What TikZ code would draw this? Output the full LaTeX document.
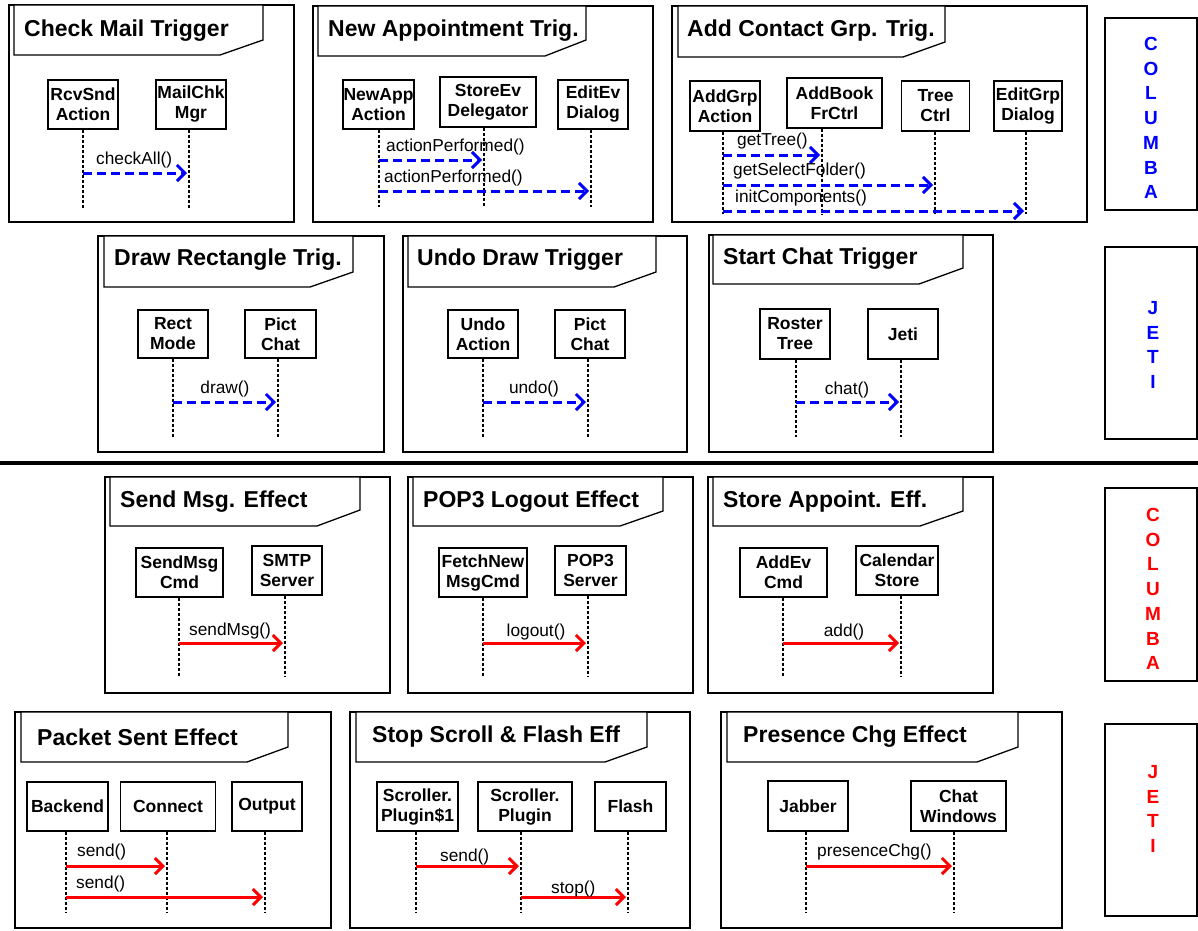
\documentclass[tikz,border=0pt]{standalone}
\usepackage{fontspec}
\setmainfont{Liberation Sans}
\usetikzlibrary{arrows.meta}
\tikzset{
  frame/.style={draw, line width=1.3pt},
  tabs/.style={draw, fill=white, line width=1.3pt, line join=miter},
  ttl/.style={anchor=west, font=\bfseries\fontsize{23}{26}\selectfont, inner sep=0pt},
  objbox/.style={draw, fill=white, line width=1.3pt, font=\bfseries\fontsize{17.5}{20}\selectfont, align=center, inner sep=0pt},
  lifeln/.style={line width=1.4pt, dash pattern=on 3pt off 2pt},
  trig/.style={blue, line width=3pt, dash pattern=on 9pt off 5pt, -{Straight Barb[length=8pt,width=16pt]}, shorten >=2pt},
  eff/.style={red, line width=3pt, -{Straight Barb[length=8pt,width=16pt]}, shorten >=2pt},
  lbl/.style={font=\fontsize{17.3}{20}\selectfont, inner sep=0pt},
  sidebox/.style={draw, line width=1.3pt},
  sidetxt/.style={font=\bfseries\fontsize{19}{24.7}\selectfont, align=center, inner sep=0pt},
}
\newcommand\myPanel[9]{%
  \draw[frame] (#1,#2) rectangle (#3,#4);
  \draw[tabs] (#5,#2) -- (#6,#2) -- (#6,#7) -- (#8,#9) -- (#5,#9) -- cycle;}
\newcommand\myObj[6]{\node[objbox, minimum width=#4pt, minimum height=#5pt] (#1) at (#2,#3) {#6};}
\newcommand\myLife[4]{\coordinate (#1) at (#3,#4); \draw[lifeln] (#2.south -| #1) -- (#1);}
\newcommand\myMsg[5]{\coordinate (#1) at (0,#4); \draw[#5] (#2 |- #1) -- (#3 |- #1);}
\begin{document}
\begin{tikzpicture}[x=1pt,y=-1pt]
\useasboundingbox (0,0) rectangle (1198,930);
\fill[white] (0,0) rectangle (1198,930);

% ---------- Panel 1 ----------
\myPanel{9}{5}{294}{222}{14}{263}{40}{220}{55}
\node[ttl] (t1) at (24,31) {Check Mail Trigger};
\myObj{rcv}{83}{104.5}{70}{49}{RcvSnd\\Action}
\myObj{mailchk}{191}{104.5}{70}{49}{MailChk\\Mgr}
\myLife{l1a}{rcv}{83}{208}
\myLife{l1b}{mailchk}{189}{208}
\myMsg{m1}{l1a}{l1b}{173}{trig}
\node[lbl, anchor=west] (c1) at (96,160) {checkAll()};

% ---------- Panel 2 ----------
\myPanel{313}{6}{653}{222}{318}{586}{40}{545}{56}
\node[ttl] (t2) at (328,31) {New Appointment Trig.};
\myObj{newapp}{378.5}{104.5}{71}{49}{NewApp\\Action}
\myObj{storeev}{488}{102}{96}{50}{StoreEv\\Delegator}
\myObj{editev}{593}{104.5}{70}{49}{EditEv\\Dialog}
\myLife{l2a}{newapp}{379}{207}
\myLife{l2b}{storeev}{484}{207}
\myLife{l2c}{editev}{591}{207}
\myMsg{m2a}{l2a}{l2b}{160}{trig}
\myMsg{m2b}{l2a}{l2c}{191}{trig}
\node[lbl, anchor=west] (c2a) at (386,147) {actionPerformed()};
\node[lbl, anchor=west] (c2b) at (384,178) {actionPerformed()};

% ---------- Panel 3 ----------
\myPanel{672}{6}{1087}{222}{678}{945}{42}{903}{57}
\node[ttl] (t3) at (687,31) {Add Contact Grp. Trig.};
\myObj{addgrp}{725}{106}{70}{50}{AddGrp\\Action}
\myObj{addbook}{834.5}{103}{95}{50}{AddBook\\FrCtrl}
\myObj{treectrl}{935.5}{106}{68}{50}{Tree\\Ctrl}
\myObj{editgrp}{1028}{106}{68}{50}{EditGrp\\Dialog}
\myLife{l3a}{addgrp}{723}{214}
\myLife{l3b}{addbook}{822}{214}
\myLife{l3c}{treectrl}{935}{214}
\myLife{l3d}{editgrp}{1026}{214}
\myMsg{m3a}{l3a}{l3b}{155}{trig}
\myMsg{m3b}{l3a}{l3c}{185}{trig}
\myMsg{m3c}{l3a}{l3d}{211}{trig}
\node[lbl, anchor=west] (c3a) at (737,141) {getTree()};
\node[lbl, anchor=west] (c3b) at (733,171) {getSelectFolder()};
\node[lbl, anchor=west] (c3c) at (735,198) {initComponents()};

% ---------- Panel 4 ----------
\myPanel{98}{236}{384}{452}{104}{353}{272}{310}{287}
\node[ttl] (t4) at (114,260) {Draw Rectangle Trig.};
\myObj{rectmode}{173}{334}{70}{48}{Rect\\Mode}
\myObj{pictA}{280.5}{334}{71}{48}{Pict\\Chat}
\myLife{l4a}{rectmode}{173}{437}
\myLife{l4b}{pictA}{278}{437}
\myMsg{m4}{l4a}{l4b}{402}{trig}
\node[lbl] (c4) at (225,389) {draw()};

% ---------- Panel 5 ----------
\myPanel{403}{236}{687}{452}{408}{656}{272}{614}{287}
\node[ttl] (t5) at (417,260) {Undo Draw Trigger};
\myObj{undoact}{483}{334}{70}{48}{Undo\\Action}
\myObj{pictB}{590}{334}{70}{48}{Pict\\Chat}
\myLife{l5a}{undoact}{483}{437}
\myLife{l5b}{pictB}{588}{437}
\myMsg{m5}{l5a}{l5b}{402}{trig}
\node[lbl] (c5) at (534,389) {undo()};

% ---------- Panel 6 ----------
\myPanel{709}{235}{993}{452}{713}{963}{268}{919}{284}
\node[ttl] (t6) at (723,259) {Start Chat Trigger};
\myObj{roster}{795}{334}{70}{50}{Roster\\Tree}
\myObj{jeti}{903}{334}{70}{50}{Jeti}
\myLife{l6a}{roster}{796}{437}
\myLife{l6b}{jeti}{901}{437}
\myMsg{m6}{l6a}{l6b}{402}{trig}
\node[lbl] (c6) at (847,390) {chat()};

% ---------- side boxes (triggers) ----------
\node[sidebox, minimum width=92pt, minimum height=192pt] (sideA) at (1151,114) {};
\node[sidetxt, text=blue] (sideAt) at (1151,118) {C\\O\\L\\U\\M\\B\\A};
\node[sidebox, minimum width=92pt, minimum height=192pt] (sideB) at (1151,343) {};
\node[sidetxt, text=blue] (sideBt) at (1153,345) {J\\E\\T\\I};

% ---------- separator ----------
\coordinate (sepL) at (0,463);
\coordinate (sepR) at (1198,463);
\draw[line width=4pt] (sepL) -- (sepR);

% ---------- Panel 7 ----------
\myPanel{105}{477}{390}{693}{110}{360}{510}{317}{526}
\node[ttl] (t7) at (120,502) {Send Msg. Effect};
\myObj{sendmsg}{179.5}{572.5}{87}{49}{SendMsg\\Cmd}
\myObj{smtp}{287}{570.5}{70}{49}{SMTP\\Server}
\myLife{l7a}{sendmsg}{179}{677}
\myLife{l7b}{smtp}{285}{677}
\myMsg{m7}{l7a}{l7b}{643}{eff}
\node[lbl, anchor=west] (c7) at (189,631) {sendMsg()};

% ---------- Panel 8 ----------
\myPanel{408}{477}{693}{693}{413}{663}{511}{620}{526}
\node[ttl] (t8) at (423,502) {POP3 Logout Effect};
\myObj{fetch}{483}{572.5}{88}{49}{FetchNew\\MsgCmd}
\myObj{pop3}{590.5}{570.5}{71}{49}{POP3\\Server}
\myLife{l8a}{fetch}{483}{677}
\myLife{l8b}{pop3}{588}{677}
\myMsg{m8}{l8a}{l8b}{643}{eff}
\node[lbl] (c8) at (536,632) {logout()};

% ---------- Panel 9 ----------
\myPanel{708}{477}{993}{693}{713}{963}{511}{920}{526}
\node[ttl] (t9) at (723,502) {Store Appoint. Eff.};
\myObj{addev}{783.5}{572.5}{87}{49}{AddEv\\Cmd}
\myObj{calstore}{897}{570.5}{82}{49}{Calendar\\Store}
\myLife{l9a}{addev}{783}{677}
\myLife{l9b}{calstore}{901}{677}
\myMsg{m9}{l9a}{l9b}{643}{eff}
\node[lbl] (c9) at (844,632) {add()};

% ---------- Panel 10 ----------
\myPanel{15}{712}{331}{928}{21}{288}{747}{247}{762}
\node[ttl] (t10) at (37,737) {Packet Sent Effect};
\myObj{backend}{67.5}{806.5}{81}{49}{Backend}
\myObj{connect}{168}{806.5}{95}{49}{Connect}
\myObj{output}{267}{806.5}{70}{49}{Output}
\myLife{l10a}{backend}{66}{912}
\myLife{l10b}{connect}{167}{912}
\myLife{l10c}{output}{265}{912}
\myMsg{m10a}{l10a}{l10b}{866}{eff}
\myMsg{m10b}{l10a}{l10c}{897}{eff}
\node[lbl, anchor=west] (c10a) at (77,852) {send()};
\node[lbl, anchor=west] (c10b) at (76,884) {send()};

% ---------- Panel 11 ----------
\myPanel{350}{712}{690}{928}{356}{647}{747}{605}{762}
\node[ttl] (t11) at (372,737) {Stop Scroll \& Flash Eff};
\myObj{scrollA}{417.5}{806.5}{81}{49}{Scroller.\\Plugin\$1}
\myObj{scrollB}{525}{806.5}{94}{49}{Scroller.\\Plugin}
\myObj{flash}{630.5}{806.5}{71}{49}{Flash}
\myLife{l11a}{scrollA}{416}{912}
\myLife{l11b}{scrollB}{521}{912}
\myLife{l11c}{flash}{628}{912}
\myMsg{m11a}{l11a}{l11b}{866}{eff}
\myMsg{m11b}{l11b}{l11c}{897}{eff}
\node[lbl, anchor=west] (c11a) at (440,857) {send()};
\node[lbl, anchor=west] (c11b) at (551,889) {stop()};

% ---------- Panel 12 ----------
\myPanel{721}{712}{1062}{928}{727}{1018}{747}{977}{762}
\node[ttl] (t12) at (743,737) {Presence Chg Effect};
\myObj{jabber}{808}{806}{80}{50}{Jabber}
\myObj{chatwin}{958.5}{806}{95}{50}{Chat\\Windows}
\myLife{l12a}{jabber}{806}{912}
\myLife{l12b}{chatwin}{954}{912}
\myMsg{m12}{l12a}{l12b}{866}{eff}
\node[lbl, anchor=west] (c12) at (817,852) {presenceChg()};

% ---------- side boxes (effects) ----------
\node[sidebox, minimum width=92pt, minimum height=193pt] (sideC) at (1151,584.5) {};
\node[sidetxt, text=red] (sideCt) at (1153,589) {C\\O\\L\\U\\M\\B\\A};
\node[sidebox, minimum width=92pt, minimum height=192pt] (sideD) at (1151,820) {};
\node[sidetxt, text=red] (sideDt) at (1153,809) {J\\E\\T\\I};
\end{tikzpicture}
\end{document}
